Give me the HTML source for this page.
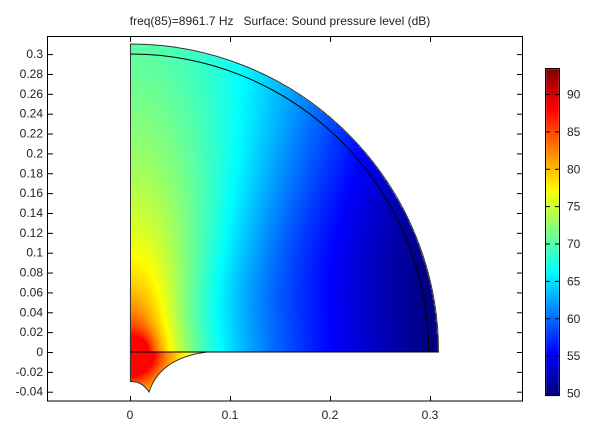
<!DOCTYPE html>
<html><head><meta charset="utf-8"><style>
html,body{margin:0;padding:0;background:#fff;width:614px;height:424px;overflow:hidden}
#c{position:absolute;left:0;top:0}
svg{position:absolute;left:0;top:0}
text{font-family:"Liberation Sans","DejaVu Sans",sans-serif;font-size:12px;fill:#222}
</style></head><body>
<canvas id="c" width="614" height="424"></canvas>
<svg width="614" height="424" viewBox="0 0 614 424">
<text x="280" y="25" text-anchor="middle" xml:space="preserve">freq(85)=8961.7 Hz   Surface: Sound pressure level (dB)</text>
<rect x="47.5" y="36.5" width="475" height="364.5" fill="none" stroke="#000" stroke-width="1"/>
<g id="yt" stroke="#000"></g>
<g id="yl" text-anchor="end"></g>
<g stroke="#000">
<line x1="130.5" y1="401" x2="130.5" y2="396"/><line x1="230.5" y1="401" x2="230.5" y2="396"/><line x1="330.5" y1="401" x2="330.5" y2="396"/><line x1="430.5" y1="401" x2="430.5" y2="396"/>
<line x1="130.5" y1="37" x2="130.5" y2="42"/><line x1="230.5" y1="37" x2="230.5" y2="42"/><line x1="330.5" y1="37" x2="330.5" y2="42"/><line x1="430.5" y1="37" x2="430.5" y2="42"/>
</g>
<g text-anchor="middle"><text x="130" y="419">0</text><text x="230" y="419">0.1</text><text x="330" y="419">0.2</text><text x="430" y="419">0.3</text></g>
<path d="M130.5,44 A308,308 0 0 1 438.5,352 L207,352 Q160,358 149,392 Q142,381 130.5,381.5 Z" fill="none" stroke="#333" stroke-width="1"/>
<path d="M130.5,54 A298,298 0 0 1 428.5,352 M130.5,352 L438.5,352" fill="none" stroke="#000" stroke-width="1"/>
<rect x="545.5" y="68.5" width="14" height="327" fill="none" stroke="#000"/>
<g id="cb" stroke="#000"></g>
<g id="cl"></g>
</svg>
<script>
function jet(t){t=Math.max(0,Math.min(1,t));
function f(x){return Math.max(0,Math.min(1,1.5-Math.abs(x)));}
return [f(4*t-3)*255,f(4*t-2)*255,f(4*t-1)*255];}
var NS="http://www.w3.org/2000/svg";
function el(p,n,a,txt){var e=document.createElementNS(NS,n);for(var k in a)e.setAttribute(k,a[k]);if(txt)e.textContent=txt;document.getElementById(p).appendChild(e);}
for(var i=-2;i<=15;i++){var v=i*0.02;var y=352-v*993;
el('yt','line',{x1:48,y1:y+.5,x2:53,y2:y+.5});el('yt','line',{x1:522,y1:y+.5,x2:517,y2:y+.5});
var s=(Math.round(v*100)/100).toString();el('yl','text',{x:43,y:y+4},s);}
for(var d=50;d<=90;d+=5){var y=393-(d-50)*7.475;
el('cb','line',{x1:546,y1:y+.5,x2:550,y2:y+.5});el('cb','line',{x1:559,y1:y+.5,x2:555,y2:y+.5});
el('cl','text',{x:567,y:y+4.5},''+d);}
var c=document.getElementById('c').getContext('2d');
var img=c.createImageData(614,424);var D=img.data;
function val(x,y){var r=Math.sqrt(x*x+y*y);
if(y<0){return Math.min(88,69-13.6*Math.log(Math.max(r,0.005)/0.1));}
var s=r>0?y/r:0;var s3=s*s*s;
var A=65+12*s3,k=13.6-7.5*s3;var v=A-k*Math.log(Math.max(r,0.005)/0.1);return Math.min(88,v);}
function inside(px,py){if(px<130)return false;
if(py<=352){var dx=px-130,dy=352-py;return dx*dx+dy*dy<=308*308;}
if(py>392)return false;
var t,xr,lo=0,hi=1;for(var j=0;j<20;j++){t=(lo+hi)/2;var yy=(1-t)*(1-t)*352+2*t*(1-t)*358+t*t*392;if(yy<py)lo=t;else hi=t;}
xr=(1-t)*(1-t)*207+2*t*(1-t)*160+t*t*149;
if(px>xr)return false;
if(py>381.5){lo=0;hi=1;for(var j=0;j<20;j++){t=(lo+hi)/2;var yy=(1-t)*(1-t)*392+2*t*(1-t)*381+t*t*381.5;if(yy>py)lo=t;else hi=t;}
var xl=(1-t)*(1-t)*149+2*t*(1-t)*142+t*t*130.5;if(px<xl)return false;}
return true;}
for(var py=40;py<396;py++)for(var px=130;px<442;px++){if(!inside(px+.5,py+.5))continue;
var col=jet((val((px+.5-130)/1000,(352-py-.5)/993)-50)/43.5);var o=(py*614+px)*4;
D[o]=col[0];D[o+1]=col[1];D[o+2]=col[2];D[o+3]=255;}
for(var py=69;py<396;py++){var v=50+(393-py)/7.475;var col=jet((v-50)/43.5);
for(var px=546;px<559;px++){var o=(py*614+px)*4;D[o]=col[0];D[o+1]=col[1];D[o+2]=col[2];D[o+3]=255;}}
c.putImageData(img,0,0);
</script>
</body></html>
